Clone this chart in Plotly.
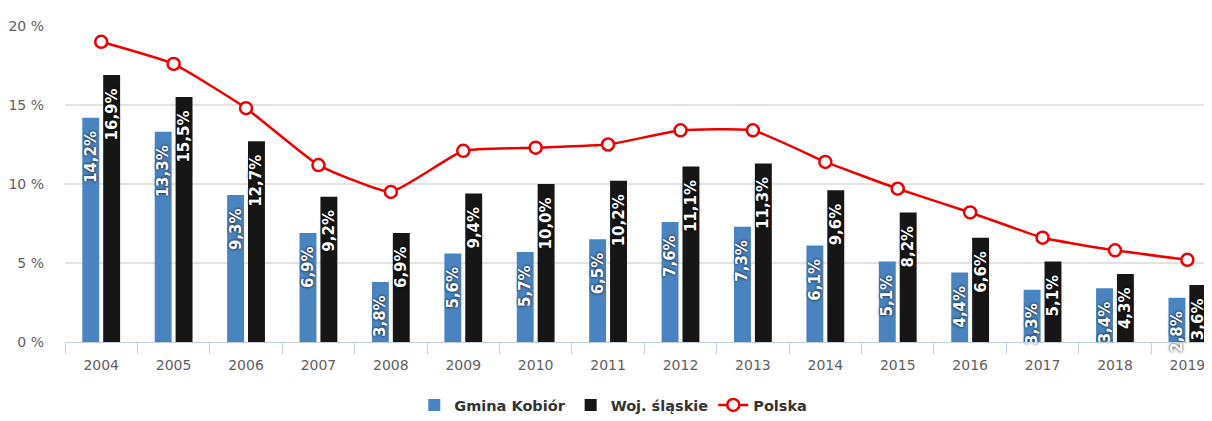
import plotly.graph_objects as go

years = ["2004", "2005", "2006", "2007", "2008", "2009", "2010", "2011",
         "2012", "2013", "2014", "2015", "2016", "2017", "2018", "2019"]
gmina = [14.2, 13.3, 9.3, 6.9, 3.8, 5.6, 5.7, 6.5, 7.6, 7.3, 6.1, 5.1, 4.4, 3.3, 3.4, 2.8]
woj = [16.9, 15.5, 12.7, 9.2, 6.9, 9.4, 10.0, 10.2, 11.1, 11.3, 9.6, 8.2, 6.6, 5.1, 4.3, 3.6]
polska = [19.0, 17.6, 14.8, 11.2, 9.5, 12.1, 12.3, 12.5, 13.4, 13.4, 11.4, 9.7, 8.2, 6.6, 5.8, 5.2]
y_ticks = [0, 5, 10, 15, 20]
y_ticklabels = ["0 %", "5 %", "10 %", "15 %", "20 %"]


def fmt(v):
    return f"{v:.1f}".replace(".", ",") + "%\u00a0\u00a0"


label_font = dict(family="DejaVu Sans", size=15, color="white", weight="bold",
                  shadow="0px 0px 3px #000000")

fig = go.Figure()
fig.add_trace(go.Bar(
    x=years, y=gmina, name="Gmina Kobiór",
    marker=dict(color="#4a84c0", line=dict(width=0)),
    text=[fmt(v) for v in gmina], textposition="inside", textangle=-90,
    insidetextanchor="end", constraintext="none", textfont=label_font,
    cliponaxis=False,
))
fig.add_trace(go.Bar(
    x=years, y=woj, name="Woj. śląskie",
    marker=dict(color="#161616", line=dict(width=0)),
    text=[fmt(v) for v in woj], textposition="inside", textangle=-90,
    insidetextanchor="end", constraintext="none", textfont=label_font,
    cliponaxis=False,
))
fig.add_trace(go.Scatter(
    x=years, y=polska, name="Polska", mode="lines+markers",
    line=dict(color="#ee0000", width=2.5, shape="spline", smoothing=0.4),
    marker=dict(symbol="circle", size=12, color="white",
                line=dict(color="#ee0000", width=2.5)),
))

fig.update_layout(
    width=1204, height=413,
    margin=dict(l=57, r=0, t=18, b=76),
    paper_bgcolor="white", plot_bgcolor="white",
    barmode="group", bargap=0.423, bargroupgap=0.19,
    font=dict(family="DejaVu Sans", color="#606060", size=12),
    showlegend=True,
    legend=dict(orientation="h", x=0.478, xanchor="center", y=-0.2, yanchor="middle",
                font=dict(family="DejaVu Sans", size=14.5, color="#333333", weight="bold"),
                itemwidth=30, traceorder="normal"),
    xaxis=dict(
        type="category", range=[-0.5, 15.34], automargin=False,
        showgrid=False, showline=True, linecolor="#c0d0e0", linewidth=1,
        ticks="outside", tickson="boundaries", ticklen=11, tickcolor="#c0d0e0",
        ticklabelstandoff=10,
        tickfont=dict(size=14, color="#606060"),
    ),
    yaxis=dict(
        range=[0, 20], tickvals=y_ticks, ticktext=y_ticklabels, automargin=False,
        showgrid=True, gridcolor="#e3e3e3", gridwidth=1.5, zeroline=False,
        showline=False, ticks="", ticklabelstandoff=20,
        tickfont=dict(size=14, color="#606060"),
    ),
)

fig.write_html("out.html")
